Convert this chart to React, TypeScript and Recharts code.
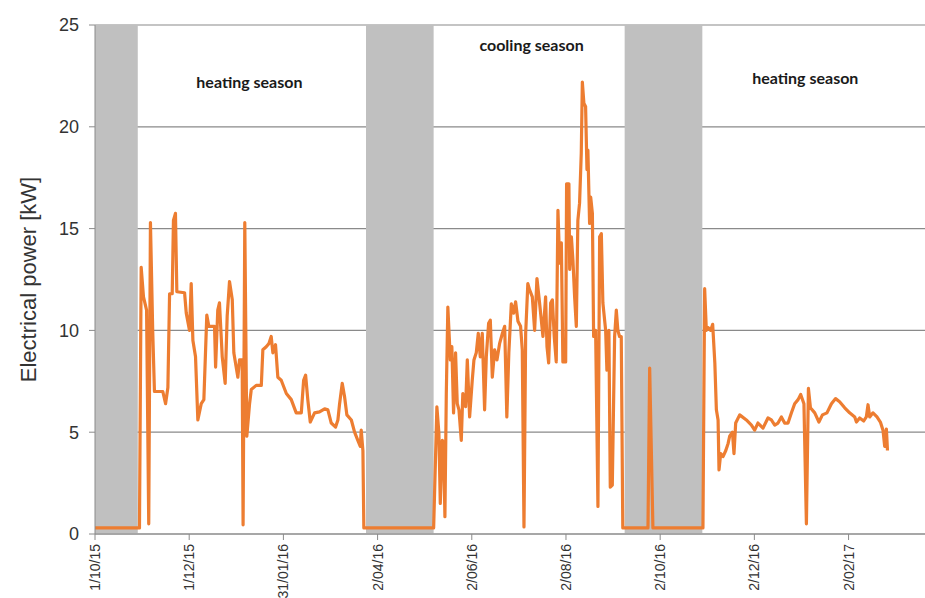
import React from 'react';
import {
    LineChart, Line, XAxis, YAxis, CartesianGrid, ReferenceArea, ReferenceDot
} from 'recharts';

// days since 1/10/15 and electrical power [kW]
const days = [
    0, 28.8, 29.9, 31.4, 33.4, 34.8, 35.9, 37.4, 38.5, 43.9, 45.7, 47.2, 48.3, 50.0, 50.8, 52.1,
    53.0, 58.0, 59.1, 61.2, 62.3, 63.4, 65.1, 66.6, 68.8, 70.5, 72.4, 73.7, 77.4, 78.1, 79.5, 80.6,
    82.4, 84.3, 85.6, 87.1, 88.9, 89.9, 92.5, 93.6, 95.3, 95.9, 97.0, 98.3, 100.1, 101.2, 104.4, 107.7,
    108.7, 110.9, 112.6, 114.1, 115.2, 116.9, 118.4, 120.6, 123.9, 127.1, 130.3, 133.6, 135.1, 136.4,
    137.8, 139.4, 142.2, 145.4, 148.7, 150.8, 153.0, 155.8, 157.3, 158.4, 160.1, 161.6, 163.1, 166.0,
    168.1, 170.2, 171.8, 172.4, 173.5, 174.1, 219.3,
    221.4, 222.7, 223.6, 224.9, 225.7, 226.6, 227.5, 228.5, 230.1, 231.1, 232.2, 233.5, 234.6, 235.7,
    237.2, 238.2, 240.0, 241.1, 242.6, 244.3, 245.4, 246.9, 248.2, 249.5, 250.8, 252.3, 253.4, 254.9,
    256.0, 257.3, 258.8, 260.3, 262.0, 263.8, 265.3, 266.7, 268.0, 269.6, 271.1, 272.4, 273.9, 275.6,
    276.7, 277.8, 278.9, 280.3, 281.4, 283.2, 284.7, 286.2, 287.9, 290.1, 291.8, 292.7, 293.8, 295.1,
    296.2, 297.4, 298.7, 299.8, 300.9, 302.0, 303.0, 304.8, 305.4, 306.9, 307.4, 308.5, 309.5, 310.6,
    311.7, 312.7, 313.8, 314.9, 315.6, 316.6, 317.7, 318.6, 319.2, 320.3, 321.0, 322.1, 322.9, 324.2,
    325.7, 326.8, 327.9, 328.9, 330.7, 331.5, 332.8, 333.7, 335.0, 336.5, 337.6, 338.6, 339.7, 340.8,
    341.8, 358.1, 359.2, 361.3, 393.7,
    394.8, 395.9, 396.9, 398.7, 400.0, 401.4, 402.4, 403.5, 404.1, 405.2, 406.7, 408.5, 410.0, 411.0,
    412.8, 413.8, 414.9, 417.5, 421.8, 425.1, 427.2, 429.3, 432.6, 435.8, 438.0, 440.2, 442.3, 444.5,
    446.6, 448.8, 451.0, 453.1, 455.3, 457.0, 459.1, 460.7, 462.0, 463.3, 466.1, 468.8, 471.1, 474.0,
    476.9, 479.6, 482.2, 485.5, 488.7, 492.0, 493.1, 495.2, 497.8, 499.5, 500.6, 501.7, 503.8, 506.4,
    508.6, 510.3, 511.4, 512.5, 513.2,
];

const power = [
    0.3, 0.3, 13.1, 11.65, 11.0, 0.5, 15.3, 9.9, 7.0, 7.0, 6.4, 7.2, 11.8, 11.8, 15.4, 15.75,
    11.9, 11.85, 10.85, 10.0, 12.3, 9.5, 8.7, 5.6, 6.4, 6.6, 10.75, 10.2, 10.2, 8.2, 11.0, 11.35,
    8.7, 7.4, 10.7, 12.4, 11.5, 8.9, 7.7, 8.55, 8.55, 0.45, 15.3, 4.8, 6.4, 7.1, 7.3, 7.3,
    9.05, 9.2, 9.35, 9.7, 8.9, 9.3, 7.7, 7.55, 6.9, 6.6, 5.95, 5.95, 7.55, 7.8,
    6.6, 5.5, 5.95, 6.0, 6.15, 6.1, 5.45, 5.25, 5.6, 6.4, 7.4, 6.75, 5.85, 5.6,
    5.0, 4.6, 4.3, 5.1, 4.1, 0.3, 0.3,
    6.25, 4.95, 1.5, 4.6, 4.5, 0.85, 6.9, 11.15, 8.55, 9.2, 5.95, 8.9, 6.4, 6.1,
    4.6, 6.9, 6.25, 8.55, 5.75, 7.55, 8.55, 8.9, 9.85, 8.7, 9.85, 6.1, 8.7, 10.35,
    10.5, 7.7, 9.05, 8.55, 9.35, 9.85, 10.2, 5.75, 8.9, 11.3, 10.85, 11.4, 10.45, 10.2,
    9.05, 0.35, 9.85, 12.3, 12.0, 11.65, 10.0, 12.55, 11.35, 9.7, 11.65, 9.2, 8.4, 11.35,
    11.5, 9.7, 8.45, 15.9, 13.3, 14.3, 8.45, 8.45, 17.2, 17.2, 13.0, 14.6, 13.45, 11.65,
    10.2, 15.4, 16.25, 18.7, 22.2, 21.15, 21.0, 17.9, 18.85, 15.25, 16.55, 15.75, 9.7, 10.0,
    1.35, 14.6, 14.75, 11.35, 10.0, 8.05, 10.0, 2.3, 2.4, 9.7, 11.0, 10.0, 9.7, 9.7,
    0.3, 0.3, 8.15, 0.3, 0.3,
    12.05, 10.0, 10.15, 10.0, 10.3, 8.4, 6.1, 5.6, 3.15, 3.95, 3.8, 4.1, 4.45, 4.8,
    5.0, 3.95, 5.45, 5.85, 5.6, 5.35, 5.1, 5.45, 5.2, 5.7, 5.6, 5.35, 5.45, 5.75,
    5.45, 5.45, 5.95, 6.4, 6.6, 6.85, 6.4, 0.5, 7.15, 6.2, 5.95, 5.5, 5.85, 5.95,
    6.4, 6.65, 6.5, 6.2, 5.95, 5.75, 5.5, 5.7, 5.55, 5.75, 6.35, 5.75, 5.95, 5.75,
    5.5, 5.1, 4.3, 5.15, 4.1,
];

// x ticks every 61 days
const tickDays = [0, 61, 122, 183, 244, 305, 366, 427, 488];
const tickLabels = ['1/10/15', '1/12/15', '31/01/16', '2/04/16', '2/06/16', '2/08/16', '2/10/16', '2/12/16', '2/02/17'];

// grey periods (transition, system off)
const offStart = [0, 175.5, 343];
const offEnd = [27.7, 219.3, 393.3];

const seasonNames = ['heating season', 'cooling season', 'heating season'];
const seasonDay = [100, 282.7, 460];
const seasonLevel = [22.2, 24.0, 22.4];

const data = days.map((d, i) => ({ day: d, power: power[i] }));

const XTick = ({ x, y, payload }: any) => {
    const idx = tickDays.indexOf(payload.value);
    return (
        <text
            x={x}
            y={y}
            dy={5}
            transform={`rotate(-90 ${x} ${y})`}
            textAnchor="end"
            fontSize={14}
            fontFamily="'Liberation Sans', Arial, sans-serif"
            fill="#333"
        >
            {idx >= 0 ? tickLabels[idx] : ''}
        </text>
    );
};

const YLabel = ({ viewBox }: any) => {
    const cx = viewBox.x + 28;
    const cy = viewBox.y + viewBox.height / 2;
    return (
        <text
            x={cx}
            y={cy}
            transform={`rotate(-90 ${cx} ${cy})`}
            textAnchor="middle"
            dominantBaseline="central"
            fontSize={22}
            fontFamily="'Liberation Sans', Arial, sans-serif"
            fill="#333"
        >
            Electrical power [kW]
        </text>
    );
};

const App: React.FC = () => {
    return (
        <div style={{ position: 'absolute', left: 0, top: 0, width: 925, height: 598, background: '#fff' }}>
            <LineChart
                width={925}
                height={598}
                data={data}
                margin={{ top: 25, right: 0, left: 0, bottom: 0 }}
            >
                {offStart.map((s, i) => (
                    <ReferenceArea
                        key={'off' + i}
                        x1={s}
                        x2={offEnd[i]}
                        y1={0}
                        y2={25}
                        fill="#c0c0c0"
                        fillOpacity={1}
                        stroke="none"
                    />
                ))}
                <CartesianGrid vertical={false} stroke="#8a8a8a" strokeWidth={1.2} />
                <XAxis
                    type="number"
                    dataKey="day"
                    domain={[0, 537.5]}
                    ticks={tickDays}
                    interval={0}
                    height={64}
                    tick={<XTick />}
                    tickSize={6}
                    tickMargin={4}
                    stroke="#8a8a8a"
                    allowDataOverflow
                />
                <YAxis
                    width={95}
                    domain={[0, 25]}
                    ticks={[0, 5, 10, 15, 20, 25]}
                    tickSize={6}
                    tickMargin={10}
                    stroke="#8a8a8a"
                    tick={{ fontSize: 18, fill: '#333', fontFamily: "'Liberation Sans', Arial, sans-serif" }}
                    label={<YLabel />}
                />
                {seasonNames.map((name, i) => (
                    <ReferenceDot
                        key={'season' + i}
                        x={seasonDay[i]}
                        y={seasonLevel[i]}
                        r={0}
                        fill="none"
                        stroke="none"
                        label={{
                            value: name,
                            position: 'center',
                            fontSize: 16,
                            fontWeight: 700,
                            fontFamily: 'Lato, sans-serif',
                            fill: '#1a1a1a',
                        }}
                    />
                ))}
                <Line
                    type="linear"
                    dataKey="power"
                    stroke="#ed7d31"
                    strokeWidth={3.2}
                    strokeLinejoin="round"
                    dot={false}
                    isAnimationActive={false}
                />
            </LineChart>
        </div>
    );
};

export default App;
